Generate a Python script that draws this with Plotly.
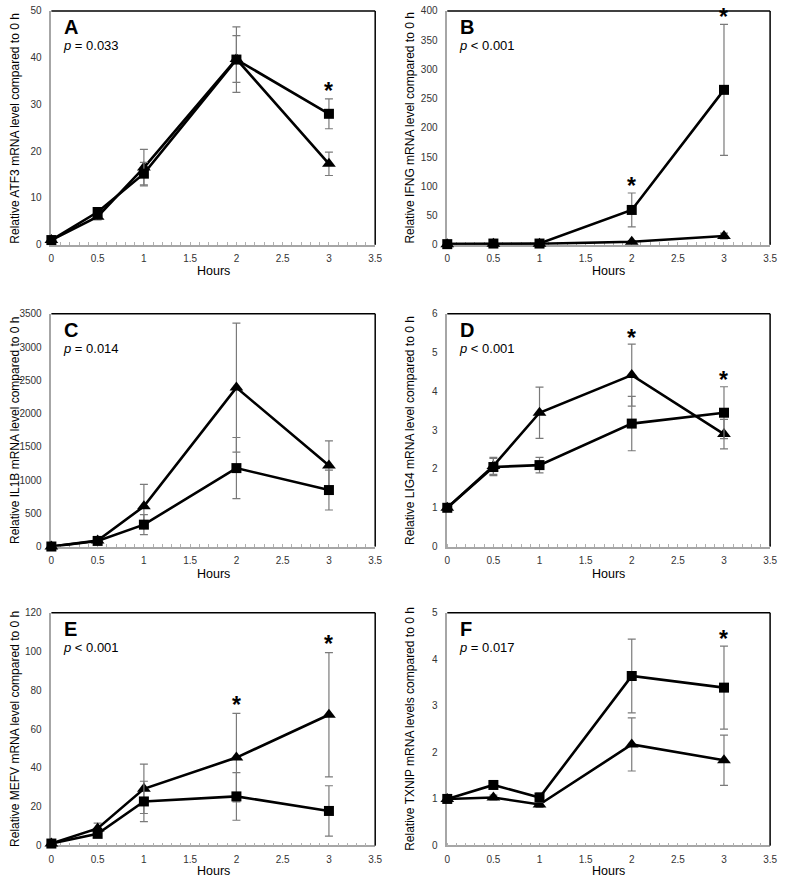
import plotly.graph_objects as go

hours = [0, 0.5, 1, 2, 3]

# Panel A - ATF3
atf3_sq = [1, 7, 15.2, 39.6, 28]
atf3_sq_err = [0.3, 0.8, 2.4, 7, 3.2]
atf3_tri = [1, 6, 16.5, 39.7, 17.3]
atf3_tri_err = [0.2, 0.7, 3.9, 5, 2.5]

# Panel B - IFNG
ifng_sq = [1, 2, 2, 59.5, 265]
ifng_sq_err = [0.3, 0.8, 1, 29, 112]
ifng_tri = [1, 1.5, 1.5, 5, 15]
ifng_tri_err = [0.2, 0.5, 0.5, 2, 5]

# Panel C - IL1B
il1b_sq = [1, 85, 330, 1180, 850]
il1b_sq_err = [0.5, 20, 150, 460, 300]
il1b_tri = [1, 90, 605, 2390, 1220]
il1b_tri_err = [0.5, 25, 330, 970, 370]

# Panel D - LIG4
lig4_sq = [1, 2.05, 2.1, 3.17, 3.45]
lig4_sq_err = [0.05, 0.22, 0.2, 0.7, 0.67]
lig4_tri = [1, 2.08, 3.45, 4.42, 2.9]
lig4_tri_err = [0.05, 0.22, 0.66, 0.8, 0.38]

# Panel E - MEFV
mefv_sq = [1, 6, 22.7, 25.3, 17.8]
mefv_sq_err = [0.3, 1.5, 10.4, 12.3, 13]
mefv_tri = [1, 8.8, 29.2, 45.3, 67.4]
mefv_tri_err = [0.3, 2.7, 12.7, 22.8, 32]

# Panel F - TXNIP
txnip_sq = [1, 1.3, 1.03, 3.64, 3.39]
txnip_sq_err = [0.03, 0.08, 0.1, 0.79, 0.89]
txnip_tri = [1, 1.03, 0.88, 2.17, 1.83]
txnip_tri_err = [0.03, 0.05, 0.06, 0.57, 0.54]

panel_letters = ["A", "B", "C", "D", "E", "F"]
p_texts = ["= 0.033", "< 0.001", "= 0.014", "< 0.001", "< 0.001", "= 0.017"]
y_titles = [
    "Relative ATF3 mRNA level compared to 0 h",
    "Relative IFNG mRNA level compared to 0 h",
    "Relative IL1B mRNA level compared to 0 h",
    "Relative LIG4 mRNA level compared to 0 h",
    "Relative MEFV mRNA level compared to 0 h",
    "Relative TXNIP mRNA levels compared to 0 h",
]
y_max = [50, 400, 3500, 6, 120, 5]
y_step = [10, 50, 500, 1, 20, 1]
x_ticks = [0, 0.5, 1, 1.5, 2, 2.5, 3, 3.5]
x_ticktext = ["0", "0.5", "1", "1.5", "2", "2.5", "3", "3.5"]

star_panel = [0, 1, 1, 3, 3, 4, 4, 5]
star_x = [3, 2, 3, 2, 3, 2, 3, 3]
star_y = [32.9, 100, 390, 5.37, 4.29, 72.5, 103.9, 4.43]

series = [
    (atf3_sq, atf3_sq_err, atf3_tri, atf3_tri_err),
    (ifng_sq, ifng_sq_err, ifng_tri, ifng_tri_err),
    (il1b_sq, il1b_sq_err, il1b_tri, il1b_tri_err),
    (lig4_sq, lig4_sq_err, lig4_tri, lig4_tri_err),
    (mefv_sq, mefv_sq_err, mefv_tri, mefv_tri_err),
    (txnip_sq, txnip_sq_err, txnip_tri, txnip_tri_err),
]

W, H = 785, 887
col_px = [(49, 377), (450, 777)]
row_px = [(5, 242), (312, 548), (615, 851)]
hours_y_px = [269, 576, 877]
ytitle_x_px = [12, 412]

FONT = "Liberation Sans, Arial, sans-serif"
fig = go.Figure()
annotations = []
shapes = []
layout = {}

for i in range(6):
    r, c = divmod(i, 2)
    n = "" if i == 0 else str(i + 1)
    xa, ya = "x" + n, "y" + n
    x0, x1 = col_px[c]
    t0, b0 = row_px[r]
    sq, sqe, tri, trie = series[i]
    err_style = dict(type="data", visible=True, color="#7a7a7a", thickness=1.2, width=4)
    fig.add_trace(go.Scatter(
        x=hours, y=tri, mode="lines+markers", xaxis=xa, yaxis=ya,
        line=dict(color="black", width=2.6),
        marker=dict(symbol="triangle-up", size=12, color="black"),
        error_y=dict(array=trie, **err_style), cliponaxis=False, showlegend=False))
    fig.add_trace(go.Scatter(
        x=hours, y=sq, mode="lines+markers", xaxis=xa, yaxis=ya,
        line=dict(color="black", width=2.6),
        marker=dict(symbol="square", size=10, color="black"),
        error_y=dict(array=sqe, **err_style), cliponaxis=False, showlegend=False))
    layout["xaxis" + n] = dict(
        domain=[x0 / W, x1 / W], anchor=ya, range=[0, 3.5],
        tickvals=x_ticks, ticktext=x_ticktext, ticks="", showgrid=False,
        zeroline=False, showline=True, linecolor="#a6a6a6", linewidth=1.5,
        tickfont=dict(family=FONT, size=10, color="#333333"),
        ticklabelstandoff=4, ticklabeloverflow="allow", layer="below traces",
        minor=dict(dtick=0.1, ticks="inside", ticklen=3, tickcolor="#b0b0b0", showgrid=False),
    )
    layout["yaxis" + n] = dict(
        domain=[(H - b0) / H, (H - t0) / H], anchor=xa, range=[0, y_max[i]],
        dtick=y_step[i], tick0=0, ticks="", showgrid=False, zeroline=False,
        showline=True, linecolor="#a6a6a6", linewidth=1.5,
        tickfont=dict(family=FONT, size=10, color="#333333"),
        ticklabelstandoff=6, ticklabeloverflow="allow", layer="below traces",
    )
    xd, yd = xa + " domain", ya + " domain"
    shapes.append(dict(type="line", xref=xd, yref=yd, x0=0, x1=1, y0=1, y1=1,
                       line=dict(color="black", width=1.5)))
    shapes.append(dict(type="line", xref=xd, yref=yd, x0=1, x1=1, y0=0, y1=1,
                       line=dict(color="black", width=1.5)))
    annotations.append(dict(text="<b>" + panel_letters[i] + "</b>", xref=xd, yref=yd,
                            x=0.033, y=0.93, xanchor="left", yanchor="middle", showarrow=False,
                            font=dict(family=FONT, size=20, color="black")))
    annotations.append(dict(text="<i>p</i> " + p_texts[i], xref=xd, yref=yd,
                            x=0.03, y=0.852, xanchor="left", yanchor="middle", showarrow=False,
                            font=dict(family=FONT, size=13, color="black")))
    annotations.append(dict(text="Hours", xref="paper", yref="paper",
                            x=(x0 + x1) / 2 / W, y=(H - hours_y_px[r]) / H,
                            xanchor="center", yanchor="middle", showarrow=False,
                            font=dict(family=FONT, size=12.5, color="black")))
    annotations.append(dict(text=y_titles[i], xref="paper", yref="paper",
                            x=ytitle_x_px[c] / W, y=(H - (t0 + b0) / 2) / H, textangle=-90,
                            xanchor="center", yanchor="middle", showarrow=False,
                            font=dict(family=FONT, size=12, color="black")))

for k in range(len(star_x)):
    i = star_panel[k]
    n = "" if i == 0 else str(i + 1)
    annotations.append(dict(text="<b>*</b>", xref="x" + n, yref="y" + n,
                            x=star_x[k], y=star_y[k], xanchor="center", yanchor="middle",
                            yshift=0, showarrow=False,
                            font=dict(family=FONT, size=23, color="black")))

fig.update_layout(
    width=W, height=H, margin=dict(l=0, r=0, t=0, b=0),
    paper_bgcolor="white", plot_bgcolor="white",
    annotations=annotations, shapes=shapes, **layout,
)
fig.write_html("out.html", config={"displayModeBar": False},
               post_script="document.body.style.margin='0';document.body.style.overflow='hidden';")
